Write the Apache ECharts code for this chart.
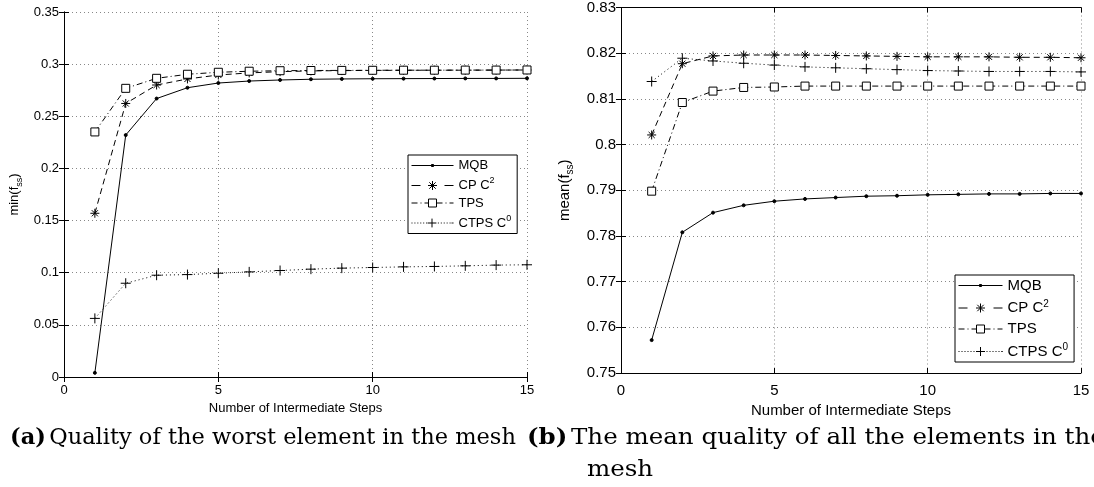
<!DOCTYPE html>
<html>
<head>
<meta charset="utf-8">
<script src="https://cdn.jsdelivr.net/npm/echarts@6/dist/echarts.min.js"></script>
<style>
html,body{margin:0;padding:0;background:#fff;overflow:hidden;}
#chart{width:1094px;height:487px;}
</style>
</head>
<body>
<div id="chart"></div>
<script>
// ---- data ----
const steps = [1,2,3,4,5,6,7,8,9,10,11,12,13,14,15];
const seriesNames = ['MQB', 'CP C2', 'TPS', 'CTPS C0'];

// (a) min(f_ss)
const minMQB  = [0.004, 0.232, 0.267, 0.2774, 0.2819, 0.2838, 0.2848, 0.2855, 0.2858, 0.286, 0.2861, 0.2862, 0.2863, 0.2863, 0.2864];
const minCP   = [0.157, 0.2623, 0.280, 0.2858, 0.2896, 0.2916, 0.2928, 0.2935, 0.2938, 0.294, 0.2941, 0.2942, 0.2942, 0.2943, 0.2944];
const minTPS  = [0.235, 0.2768, 0.2864, 0.2903, 0.2922, 0.2932, 0.2937, 0.2939, 0.294, 0.2941, 0.2942, 0.2942, 0.2943, 0.2943, 0.2944];
const minCTPS = [0.0562, 0.0899, 0.0976, 0.0982, 0.0995, 0.1008, 0.1021, 0.1034, 0.1044, 0.105, 0.1056, 0.106, 0.1066, 0.1073, 0.1076];

// (b) mean(f_ss)
const meanMQB  = [0.7572, 0.7808, 0.7851, 0.7867, 0.7876, 0.7881, 0.7884, 0.7887, 0.7888, 0.789, 0.7891, 0.7892, 0.7892, 0.7893, 0.7893];
const meanCP   = [0.8021, 0.8177, 0.8194, 0.8196, 0.8196, 0.8196, 0.8195, 0.8194, 0.8193, 0.8192, 0.8192, 0.8192, 0.8191, 0.8191, 0.8190];
const meanTPS  = [0.7898, 0.8092, 0.8117, 0.8125, 0.8126, 0.8128, 0.8128, 0.8128, 0.8128, 0.8128, 0.8128, 0.8128, 0.8128, 0.8128, 0.8128];
const meanCTPS = [0.8138, 0.8189, 0.8183, 0.8178, 0.8174, 0.8170, 0.8168, 0.8166, 0.8164, 0.8162, 0.8161, 0.8160, 0.8160, 0.8160, 0.8159];

// axis ranges / ticks
const xRange = {min: 0, max: 15, interval: 5};
const yRangeA = {min: 0, max: 0.35, interval: 0.05};
const yRangeB = {min: 0.75, max: 0.83, interval: 0.01};

const xAxisTitle = 'Number of Intermediate Steps';
const captionA = 'Quality of the worst element in the mesh';
const captionB = 'The mean quality of all the elements in the';
const captionB2 = 'mesh';

// ---- styles ----
const SANS = "'Liberation Sans', Arial, Helvetica, sans-serif";
const SERIF = "'DejaVu Serif', serif";
const asterisk = 'path://M5,0L5,10M0,5L10,5M1.6,1.6L8.4,8.4M1.6,8.4L8.4,1.6';
const plus = 'path://M5,0L5,10M0,5L10,5';

const styleDefs = {
  'MQB':     {symbol: 'circle', size: 3, dash: 'solid', fill: '#000'},
  'CP C2':   {symbol: asterisk, size: 9, dash: [6,4], fill: '#000'},
  'TPS':     {symbol: 'rect', size: 8, dash: [6,3,1,3], fill: '#fff'},
  'CTPS C0': {symbol: plus, size: 10, dash: [1,3], fill: '#000'}
};

function zip(arr){ return steps.map((s,i)=>[s, arr[i]]); }

function makeSeries(name, arr, gi){
  const d = styleDefs[name];
  return {
    type: 'line', name: name, data: zip(arr),
    xAxisIndex: gi*2, yAxisIndex: gi*2,
    symbol: d.symbol, symbolSize: d.size, showAllSymbol: true,
    lineStyle: {color: '#000', width: 1, type: d.dash},
    itemStyle: {color: d.fill, borderColor: '#000', borderWidth: 1},
    emphasis: {disabled: true},
    animation: false, z: 3
  };
}

function axesFor(gi, yr, fs, lblMargin, nameFs, nameGap){
  const tick = {show: true, inside: true, length: 5, lineStyle: {color: '#000', width: 1}};
  const line = {show: true, lineStyle: {color: '#000', width: 1}};
  const split = {show: true, lineStyle: {color: '#888', width: 1, type: [1,3]}};
  return {
    x: [
      {type: 'value', gridIndex: gi, position: 'bottom', min: xRange.min, max: xRange.max, interval: xRange.interval,
       axisLine: line, axisTick: tick, splitLine: split,
       axisLabel: {color: '#000', fontFamily: SANS, fontSize: fs, margin: lblMargin},
       name: xAxisTitle, nameLocation: 'middle', nameGap: nameGap,
       nameTextStyle: {color: '#000', fontFamily: SANS, fontSize: nameFs}},
      {type: 'value', gridIndex: gi, position: 'top', min: xRange.min, max: xRange.max, interval: xRange.interval,
       axisLine: line, axisTick: tick, splitLine: {show: false}, axisLabel: {show: false}}
    ],
    y: [
      {type: 'value', gridIndex: gi, position: 'left', min: yr.min, max: yr.max, interval: yr.interval,
       axisLine: line, axisTick: tick, splitLine: split,
       axisLabel: {color: '#000', fontFamily: SANS, fontSize: fs, margin: 5,
         formatter: v => String(+v.toFixed(4))},
       name: gi === 0 ? '{t|min(f}{s|ss}{t|)}' : '{t|mean(f}{s|ss}{t|)}',
       nameLocation: 'middle', nameRotate: 90, nameGap: gi === 0 ? 40 : 46,
       nameTextStyle: {color: '#000', fontFamily: SANS,
         rich: {t: {fontSize: gi === 0 ? 13 : 15, fontFamily: SANS, color: '#000', lineHeight: 20},
                s: {fontSize: gi === 0 ? 9 : 10, fontFamily: SANS, color: '#000', verticalAlign: 'bottom', lineHeight: 10}}}},
      {type: 'value', gridIndex: gi, position: 'right', min: yr.min, max: yr.max, interval: yr.interval,
       axisLine: line, axisTick: tick, splitLine: {show: false}, axisLabel: {show: false}}
    ]
  };
}

const axA = axesFor(0, yRangeA, 13, 7, 13, 22);
const axB = axesFor(1, yRangeB, 15, 10, 15, 22);

// legend icons (line sample + marker), built for a given icon width W
function legendIcons(W){
  const c = W / 2, y = 5;
  const dots = (a, b) => { let s = ''; for (let x = a; x <= b - 1; x += 3) s += `M${x},${y}L${x+1},${y}`; return s; };
  return {
    'MQB': `path://M0,${y}L${W},${y}M${c-1},${y-1}h2v2h-2z`,
    'CP C2': `path://M0,${y}L9,${y}M${W-9},${y}L${W},${y}` +
             `M${c},0.5L${c},9.5M${c-4.5},${y}L${c+4.5},${y}M${c-3.2},1.8L${c+3.2},8.2M${c-3.2},8.2L${c+3.2},1.8`,
    'TPS': `path://M0,${y}L6,${y}M9,${y}L10,${y}M13,${y}L${c-4},${y}` +
           `M${c-4},1h8v8h-8z` +
           `M${c+4},${y}L${c+10},${y}M${c+13},${y}L${c+14},${y}M${c+17},${y}L${W},${y}`,
    'CTPS C0': `path://` + dots(0, c - 5) + dots(c + 6, W + 1) + `M${W-1},${y}L${W},${y}` +
               `M${c},0.5L${c},9.5M${c-4.5},${y}L${c+4.5},${y}`
  };
}

function legendFor(left, top, fs, gap, iw, pad){
  const icons = legendIcons(iw);
  return {
    orient: 'vertical', left: left, top: top,
    data: seriesNames.map(n => ({
      name: n, icon: icons[n],
      itemStyle: {color: styleDefs[n].fill, borderColor: '#000', borderWidth: 1}
    })),
    symbolKeepAspect: true,
    backgroundColor: '#fff', borderColor: '#000', borderWidth: 1,
    padding: pad, itemGap: gap, itemWidth: iw, itemHeight: 12,
    selectedMode: false,
    textStyle: {color: '#000', fontFamily: SANS, fontSize: fs,
      rich: {t: {fontSize: fs, fontFamily: SANS, color: '#000', lineHeight: 18},
             s: {fontSize: Math.round(fs*0.68), fontFamily: SANS, color: '#000', verticalAlign: 'top', lineHeight: 9}}},
    formatter: n => n === 'CP C2' ? '{t|CP C}{s|2}' : (n === 'CTPS C0' ? '{t|CTPS C}{s|0}' : '{t|' + n + '}')
  };
}

const capFs = 22.5;
const option = {
  backgroundColor: '#fff',
  animation: false,
  grid: [
    {left: 64, top: 12, width: 463, height: 365},
    {left: 621, top: 6, width: 460, height: 367}
  ],
  xAxis: axA.x.concat(axB.x),
  yAxis: axA.y.concat(axB.y),
  legend: [legendFor(408, 155, 13, 4.5, 42, [4,6,4,3]), legendFor(955, 275, 15, 6, 44, [3,6,3,3])],
  series: [
    makeSeries('MQB', minMQB, 0), makeSeries('CP C2', minCP, 0),
    makeSeries('TPS', minTPS, 0), makeSeries('CTPS C0', minCTPS, 0),
    makeSeries('MQB', meanMQB, 1), makeSeries('CP C2', meanCP, 1),
    makeSeries('TPS', meanTPS, 1), makeSeries('CTPS C0', meanCTPS, 1)
  ],
  graphic: [
    {type: 'text', left: 10, top: 427, style: {
      text: '{b|(a)} {t|' + captionA + '}',
      rich: {b: {fontFamily: SERIF, fontWeight: 'bold', fontSize: capFs, fill: '#000'},
             t: {fontFamily: SERIF, fontSize: capFs, fill: '#000'}}}},
    {type: 'text', x: 527, y: 427, scaleX: 1.09, style: {
      text: '{b|(b)} {t|' + captionB + '}',
      rich: {b: {fontFamily: SERIF, fontWeight: 'bold', fontSize: capFs, fill: '#000'},
             t: {fontFamily: SERIF, fontSize: capFs, fill: '#000'}}}},
    {type: 'text', x: 587, y: 459, scaleX: 1.09, style: {
      text: captionB2, fontFamily: SERIF, fontSize: capFs, fill: '#000'}}
  ]
};

const chart = echarts.init(document.getElementById('chart'), null, {renderer: 'canvas'});
chart.setOption(option);
</script>
</body>
</html>
